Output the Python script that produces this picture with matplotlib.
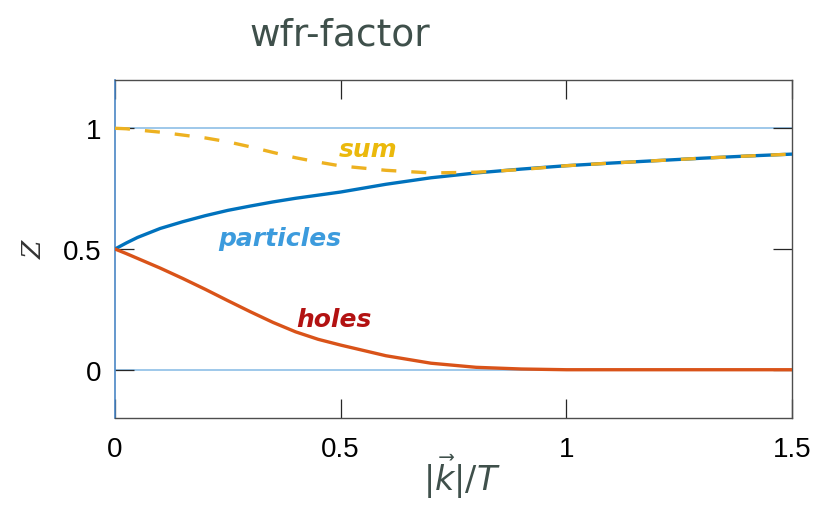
import numpy as np
import matplotlib.pyplot as plt

plt.rcParams['font.family'] = ['Liberation Sans', 'DejaVu Sans']

# values
k_over_T = [0, 0.025, 0.05, 0.1, 0.15, 0.2, 0.25, 0.3, 0.35, 0.4, 0.45, 0.5,
            0.6, 0.7, 0.8, 0.9, 1.0, 1.1, 1.2, 1.3, 1.4, 1.5]
z_particles = [0.5, 0.525, 0.548, 0.585, 0.613, 0.638, 0.66, 0.678, 0.695, 0.71,
               0.723, 0.736, 0.768, 0.795, 0.815, 0.831, 0.845, 0.856, 0.866,
               0.876, 0.885, 0.893]
z_holes = [0.5, 0.481, 0.461, 0.421, 0.378, 0.333, 0.286, 0.24, 0.196, 0.157,
           0.126, 0.102, 0.058, 0.027, 0.01, 0.003, 0.0, 0.0, 0.0, 0.0, 0.0, 0.0]
z_sum = [1.0, 0.998, 0.993, 0.984, 0.972, 0.96, 0.944, 0.923, 0.9, 0.878,
         0.86, 0.844, 0.826, 0.815, 0.818, 0.829, 0.845, 0.856, 0.866, 0.876,
         0.885, 0.893]

x_ticks = [0, 0.5, 1, 1.5]
x_tick_labels = ['0', '0.5', '1', '1.5']
y_ticks = [0, 0.5, 1]
y_tick_labels = ['0', '0.5', '1']

fig = plt.figure(figsize=(8.14, 5.10), dpi=100)
ax = fig.add_axes([0.1413, 0.1784, 0.8317, 0.6628])

ax.axhline(1, color='#8dbfe6', lw=1.2, zorder=1)
ax.axhline(0, color='#8dbfe6', lw=1.2, zorder=1)

ax.plot(k_over_T, z_particles, color='#0072BD', lw=2.4, zorder=3)
ax.plot(k_over_T, z_holes, color='#D95319', lw=2.4, zorder=3)
ax.plot(k_over_T, z_sum, color='#EDB120', lw=2.4, dashes=(4.5, 4.5), zorder=4)

ax.set_xlim(0, 1.5)
ax.set_ylim(-0.2, 1.2)
ax.set_xticks(x_ticks)
ax.set_xticklabels(x_tick_labels)
ax.set_yticks(y_ticks)
ax.set_yticklabels(y_tick_labels)
ax.tick_params(direction='in', length=14, width=0.9, color='#262626',
               labelsize=20, top=True, right=True)
ax.tick_params(axis='x', pad=13)
ax.tick_params(axis='y', pad=10)

for side in ['top', 'right', 'bottom']:
    ax.spines[side].set_color('#4d4d4d')
    ax.spines[side].set_linewidth(1.0)
ax.spines['left'].set_color('#4a86c5')
ax.spines['left'].set_linewidth(1.2)

fig.text(0.042, 0.51, 'Z', rotation=90, fontsize=19, style='italic',
         family='DejaVu Serif', color='#333333', ha='center', va='center')

# handwritten-style annotations
ink = '#3f504b'
fig.text(0.417, 0.93, 'wfr-factor', fontsize=27, color=ink, ha='center',
         va='center', family='DejaVu Sans')
fig.text(0.567, 0.066, r'$|\vec{k}|/T$', fontsize=24, color=ink,
         ha='center', va='center')
ax.text(0.56, 0.913, 'sum', fontsize=18, color='#EBB90C', ha='center',
        va='center', style='italic', family='DejaVu Sans', fontweight='bold')
ax.text(0.365, 0.545, 'particles', fontsize=18, color='#3C9BDD',
        ha='center', va='center', style='italic', family='DejaVu Sans',
        fontweight='bold')
ax.text(0.485, 0.21, 'holes', fontsize=18, color='#B31212', ha='center',
        va='center', style='italic', family='DejaVu Sans', fontweight='bold')

fig.savefig('out.png', dpi=100)
